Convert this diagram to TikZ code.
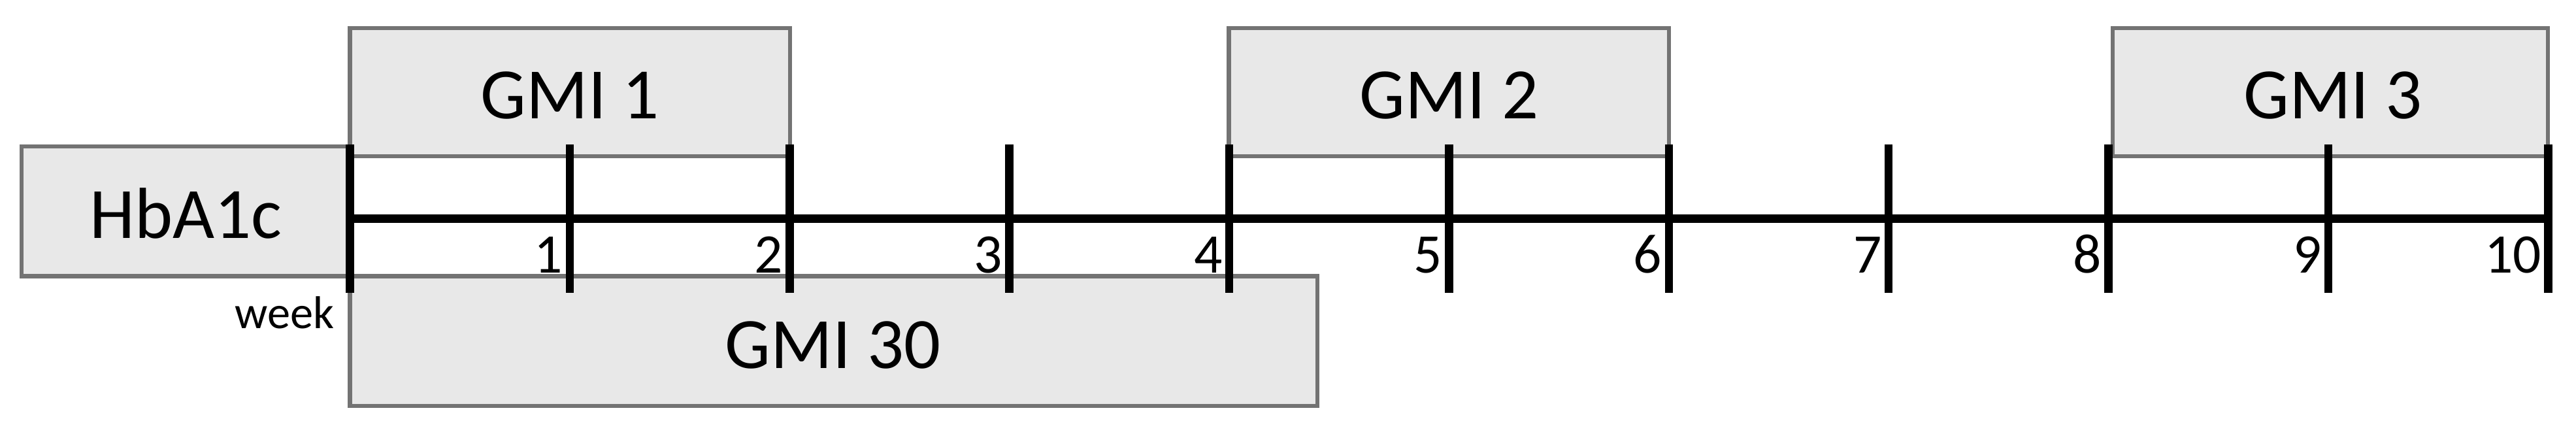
\documentclass[tikz,border=0pt]{standalone}
\usepackage{fontspec}
\setmainfont{Carlito}
\begin{document}
\begin{tikzpicture}[x=1pt,y=-1pt,
 gbox/.style={draw=gray!90!black,line width=2.5pt,fill=gray!18},
 lbl/.style={font=\fontsize{44}{44}\selectfont},
 num/.style={font=\fontsize{34}{34}\selectfont,anchor=base east,inner sep=2pt},
 tick/.style={line width=5pt}]
\useasboundingbox (0,0) rectangle (1568,265);
\draw[gbox] (213,17) rectangle (481,95); \node[lbl] (g1) at (347,58) {GMI 1};
\draw[gbox] (748,17) rectangle (1016,95); \node[lbl] (g2) at (882,58) {GMI 2};
\draw[gbox] (1286,17) rectangle (1551,95); \node[lbl] (g3) at (1420,58) {GMI 3};
\draw[gbox] (13,89) rectangle (213,168); \node[lbl] (h) at (113,130) {HbA1c};
\draw[gbox] (213,168) rectangle (802,247); \node[lbl] (g30) at (507,210) {GMI 30};
\draw[line width=5pt] (213,133) coordinate (a0) -- (1551,133) coordinate (a10);
\foreach \i in {0,...,10}{
 \pgfmathsetmacro\xx{213+133.8*\i}
 \draw[tick] (\xx,88) -- (\xx,178);
 \ifnum\i>0 \node[num] at (\xx-2,166) {\i};\fi
}
\node[font=\fontsize{28}{28}\selectfont,anchor=base east] (wk) at (207,200) {week};
\end{tikzpicture}
\end{document}
